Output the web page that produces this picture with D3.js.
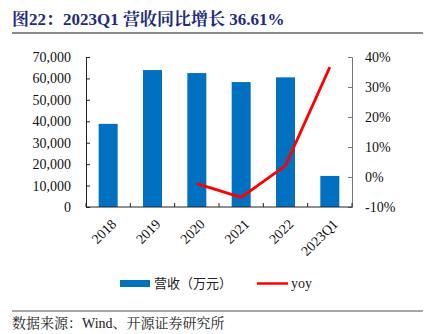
<!DOCTYPE html>
<html>
<head>
<meta charset="utf-8">
<script src="https://cdn.jsdelivr.net/npm/d3@7/dist/d3.min.js"></script>
<style>
  html, body { margin: 0; padding: 0; background: #fff; }
  svg { display: block; }
</style>
</head>
<body>
<script>
// Revenue (10k CNY) and year-over-year growth
const categories = ["2018", "2019", "2020", "2021", "2022", "2023Q1"];
const revenue = [38800, 63900, 62500, 58300, 60500, 14500];
const yoy = [null, null, -2.2, -6.8, 3.8, 36.61];
const leftTicks = [0, 10000, 20000, 30000, 40000, 50000, 60000, 70000];
const rightTicks = [-10, 0, 10, 20, 30, 40];

const W = 426, H = 334;
const serif = "'Times New Roman', 'Liberation Serif', 'Noto Serif CJK SC', 'Noto Sans CJK SC', serif";
const cjk = "'Noto Sans CJK SC', 'Liberation Serif', sans-serif";

const svg = d3.select("body").append("svg").attr("width", W).attr("height", H);

// Title and rule under it
svg.append("text")
  .attr("x", 12).attr("y", 25)
  .attr("font-family", serif)
  .attr("font-weight", "bold")
  .attr("font-size", 17)
  .attr("fill", "#1F2C7A")
  .text("图22：2023Q1 营收同比增长 36.61%");
svg.append("line").attr("x1", 12).attr("x2", 423).attr("y1", 33).attr("y2", 33)
  .attr("stroke", "#8a8a8a").attr("stroke-width", 2);

const plotLeft = 86, plotRight = 352, plotTop = 57, plotBottom = 207;

const x = d3.scaleBand().domain(categories).range([plotLeft, plotRight]).paddingInner(0).paddingOuter(0);
const yL = d3.scaleLinear().domain([0, 70000]).range([plotBottom, plotTop]);
const yR = d3.scaleLinear().domain([-10, 40]).range([plotBottom, plotTop]);

// Bars
const barW = 19;
svg.append("g").selectAll("rect").data(categories).join("rect")
  .attr("x", d => x(d) + x.bandwidth() / 2 - barW / 2)
  .attr("y", (d, i) => yL(revenue[i]))
  .attr("width", barW)
  .attr("height", (d, i) => yL(0) - yL(revenue[i]))
  .attr("fill", "#0070C0");

// Left axis
const fmt = d3.format(",");
const gL = svg.append("g").attr("transform", `translate(${plotLeft},0)`)
  .call(d3.axisLeft(yL).tickValues(leftTicks).tickFormat(fmt).tickSizeInner(-4).tickSizeOuter(-4).tickPadding(15));
gL.selectAll("path, line").attr("stroke", "#222");
gL.selectAll("text").attr("font-family", serif).attr("font-size", 14).attr("fill", "#111");

// Right axis
const gR = svg.append("g").attr("transform", `translate(${plotRight},0)`)
  .call(d3.axisRight(yR).tickValues(rightTicks).tickFormat(d => d + "%").tickSizeInner(-4).tickSizeOuter(-4).tickPadding(13));
gR.selectAll("path, line").attr("stroke", "#777");
gR.selectAll("text").attr("font-family", serif).attr("font-size", 14).attr("fill", "#111");

// Bottom axis: ticks at band boundaries, labels rotated
const gX = svg.append("g").attr("transform", `translate(0,${plotBottom})`);
gX.append("line").attr("x1", plotLeft).attr("x2", plotRight).attr("y1", 0).attr("y2", 0).attr("stroke", "#222");
const bounds = categories.map(c => x(c)).concat([plotRight]);
gX.selectAll("line.tk").data(bounds).join("line").attr("class", "tk")
  .attr("x1", d => d).attr("x2", d => d).attr("y1", 0).attr("y2", -4).attr("stroke", "#222");
gX.selectAll("text").data(categories).join("text")
  .attr("transform", d => `translate(${x(d) + x.bandwidth() / 2 + 2},${11}) rotate(-45)`)
  .attr("text-anchor", "end")
  .attr("dy", "0.7em")
  .attr("font-family", serif).attr("font-size", 14).attr("fill", "#111")
  .text(d => d);

// YoY line
const line = d3.line()
  .defined(d => d.v !== null)
  .x(d => x(d.c) + x.bandwidth() / 2)
  .y(d => yR(d.v));
svg.append("path")
  .datum(categories.map((c, i) => ({ c, v: yoy[i] })))
  .attr("d", line)
  .attr("fill", "none")
  .attr("stroke", "#FF0000")
  .attr("stroke-width", 2.8)
  .attr("stroke-linejoin", "miter");

// Legend
const lg = svg.append("g");
lg.append("rect").attr("x", 120).attr("y", 280).attr("width", 30).attr("height", 7).attr("fill", "#0070C0");
lg.append("text").attr("x", 154).attr("y", 288).attr("font-family", cjk).attr("font-size", 13).attr("fill", "#222").text("营收（万元）");
lg.append("line").attr("x1", 257).attr("x2", 288).attr("y1", 283.5).attr("y2", 283.5).attr("stroke", "#FF0000").attr("stroke-width", 2.5);
lg.append("text").attr("x", 291).attr("y", 288).attr("font-family", serif).attr("font-size", 14).attr("fill", "#222").text("yoy");

// Source footer
svg.append("line").attr("x1", 12).attr("x2", 423).attr("y1", 311).attr("y2", 311)
  .attr("stroke", "#8a8a8a").attr("stroke-width", 1.5);
svg.append("text").attr("x", 12).attr("y", 328)
  .attr("font-family", serif).attr("font-size", 14).attr("fill", "#222")
  .text("数据来源：Wind、开源证券研究所");
</script>
</body>
</html>
